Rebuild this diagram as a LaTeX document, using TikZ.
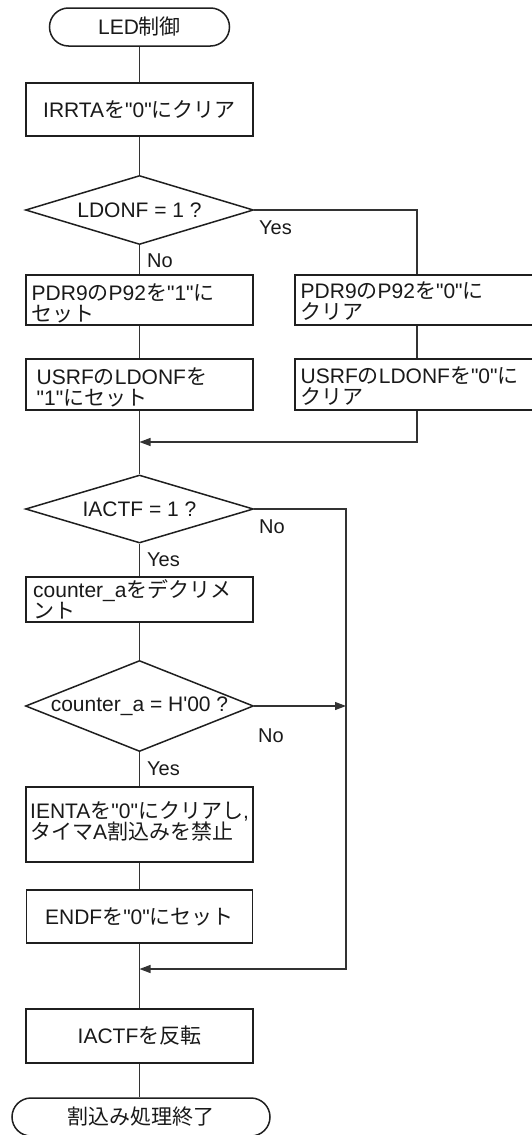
\documentclass[tikz,border=0pt]{standalone}
\usetikzlibrary{shapes.geometric,shapes.misc,arrows.meta}
\font\lt="Liberation Sans" at 21pt
\font\ltl="Liberation Sans" at 20pt
\font\jp="Noto Sans CJK JP" at 21pt
\newcommand\J[1]{{\jp #1}}
\newcommand\twol[2]{\vtop{\baselineskip=21pt\lineskiplimit=-100pt\lineskip=0pt\hbox{#1}\hbox{#2}}}
\begin{document}
\begin{tikzpicture}[x=1pt,y=-1pt,
  box/.style={draw=black!88, line width=1.5pt, rectangle, inner sep=0pt, minimum width=227pt, font=\lt, text=black!90},
  dia/.style={draw=black!88, line width=1.5pt, diamond, inner sep=0pt, minimum width=228pt, font=\lt, text=black!90},
  term/.style={draw=black!88, line width=1.5pt, rounded rectangle, inner sep=0pt, minimum height=38pt, font=\lt, text=black!90},
  txt/.style={inner sep=0pt, font=\lt, anchor=base west, text=black!90},
  lbl/.style={inner sep=0pt, font=\ltl, anchor=base west, text=black!90},
  line/.style={draw=black!80, line width=1.1pt},
  arr/.style={line, -{Triangle[length=11pt,width=8pt]}}]
\useasboundingbox (0,0) rectangle (532,1135);

% nodes
\node[term, minimum width=180pt] (t1) at (139.5,27) {LED\J{制御}};
\node[box, minimum height=53pt] (b1) at (139.5,109.5) {IRRTA\J{を}"0"\J{にクリア}};
\node[dia, aspect=3.3, minimum height=69pt] (d1) at (139.5,210) {LDONF = 1 ?};
\node[box, minimum height=50pt] (b2l) at (139.5,300) {};
\node[box, minimum height=50pt, minimum width=244pt] (b2r) at (417,300) {};
\node[box, minimum height=51pt] (b3l) at (139.5,384.5) {};
\node[box, minimum height=51pt, minimum width=244pt] (b3r) at (417,384.5) {};
\node[dia, aspect=3.35, minimum height=68pt] (d2) at (139.5,509) {IACTF = 1 ?};
\node[box, minimum height=45pt] (b4) at (139.5,599.5) {};
\node[dia, aspect=2.5, minimum height=91pt] (d3) at (139.5,706) {counter\string_a = H'00 ?};
\node[box, minimum height=75pt] (b5) at (139.5,824.5) {};
\node[box, minimum height=53pt, minimum width=226pt] (b6) at (139.5,916.5) {ENDF\J{を}"0"\J{にセット}};
\node[box, minimum height=54pt] (b7) at (139.5,1036) {IACTF\J{を反転}};
\node[term, minimum width=258pt] (t2) at (141,1117) {\J{割込み処理終了}};

% multi-line texts
\node[txt] (t2lt) at (31.5,300) {\twol{PDR9\J{の}P92\J{を}"1"\J{に}}{\J{セット}}};
\node[txt] (t2rt) at (300.5,298) {\twol{PDR9\J{の}P92\J{を}"0"\J{に}}{\J{クリア}}};
\node[txt] (t3lt) at (36.5,384) {\twol{USRF\J{の}LDONF\J{を}}{"1"\J{にセット}}};
\node[txt] (t3rt) at (300.5,383) {\twol{USRF\J{の}LDONF\J{を}"0"\J{に}}{\J{クリア}}};
\node[txt] (t4t) at (33,597) {\twol{counter\string_a\J{をデクリメ}}{\J{ント}}};
\node[txt] (t5t) at (30,818) {\twol{IENTA\J{を}"0"\J{にクリアし},}{\J{タイマ}A\J{割込みを禁止}}};

% labels
\node[lbl] (yes1) at (259,234) {Yes};
\node[lbl] (no1) at (147,267) {No};
\node[lbl] (no2) at (259,533) {No};
\node[lbl] (yes2) at (147,566) {Yes};
\node[lbl] (no3) at (258,742) {No};
\node[lbl] (yes3) at (147,775) {Yes};

% coordinates
\coordinate (m1) at (139.5,442);
\coordinate (m2) at (139.5,969);
\coordinate (rx) at (346,0);

% connectors
\draw[line] (t1.south) -- (b1.north);
\draw[line] (b1.south) -- (d1.north);
\draw[line] (d1.south) -- (b2l.north);
\draw[line] (d1.east) -| (b2r.north);
\draw[line] (b2l.south) -- (b3l.north);
\draw[line] (b2r.south) -- (b3r.north);
\draw[line] (b3l.south) -- (d2.north);
\draw[arr] (b3r.south) |- (m1);
\draw[line] (d2.south) -- (b4.north);
\draw[arr] (d2.east) -| (rx |- m2) -- (m2);
\draw[line] (b4.south) -- (d3.north);
\draw[arr] (d3.east) -- (rx |- d3.east);
\draw[line] (d3.south) -- (b5.north);
\draw[line] (b5.south) -- (b6.north);
\draw[line] (b6.south) -- (b7.north);
\draw[line] (b7.south) -- (b7.south |- t2.north);
\end{tikzpicture}
\end{document}
